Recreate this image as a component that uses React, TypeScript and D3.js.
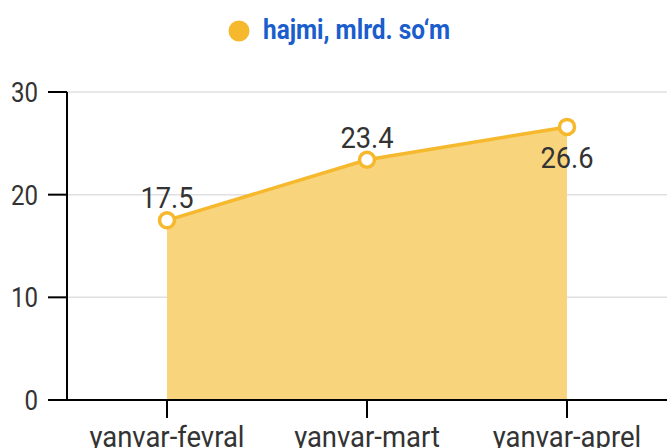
import React from "react";
import * as d3 from "d3";

const categories = ["yanvar-fevral", "yanvar-mart", "yanvar-aprel"];
const values = [17.5, 23.4, 26.6];
const yTicks = [0, 10, 20, 30];
const seriesName = "hajmi, mlrd. so\u2018m";

const W = 667, H = 448;
const M = { left: 67, right: 667, top: 92, bottom: 400 };
const FONT = "Roboto, 'Noto Sans', sans-serif";
const LINE = "#f6b82c";
const AREA = "#f8d47d";

function CText({ x, y, anchor = "middle", size, weight = 400, fill = "#333", sx = 0.86, children }: any) {
  return (
    <g transform={`translate(${x},${y}) scale(${sx},1)`}>
      <text textAnchor={anchor} fontSize={size} fontWeight={weight} fill={fill} fontFamily={FONT}>
        {children}
      </text>
    </g>
  );
}

export default function App() {
  const x = d3.scalePoint<string>().domain(categories).range([M.left, M.right]).padding(0.5);
  const y = d3.scaleLinear().domain([0, 30]).range([M.bottom, M.top]);
  const data = categories.map((c, i) => ({ c, v: values[i] }));
  const line = d3.line<any>().x((d) => x(d.c)!).y((d) => y(d.v));
  const area = d3.area<any>().x((d) => x(d.c)!).y0(y(0)).y1((d) => y(d.v));

  return (
    <svg width={W} height={H} style={{ position: "absolute", left: 0, top: 0 }}>
      {/* legend */}
      <circle cx={239} cy={31} r={10.5} fill={LINE} />
      <CText x={263} y={39} anchor="start" size={28} weight={700} fill="#1a5dcc" sx={0.87}>{seriesName}</CText>
      {/* grid */}
      {yTicks.filter((t) => t > 0).map((t) => (
        <line key={t} x1={M.left} x2={W} y1={y(t)} y2={y(t)} stroke="#e0e0e0" strokeWidth={1.5} />
      ))}
      {/* area */}
      <path d={area(data)!} fill={AREA} />
      {/* axes */}
      <line x1={M.left} x2={M.left} y1={M.top} y2={M.bottom} stroke="#000" strokeWidth={2} />
      <line x1={48} x2={W} y1={M.bottom} y2={M.bottom} stroke="#000" strokeWidth={2} />
      {yTicks.map((t) => (
        <g key={t}>
          <line x1={48} x2={M.left} y1={y(t)} y2={y(t)} stroke="#000" strokeWidth={2} />
          <CText x={38} y={y(t) + 10} anchor="end" size={28} fill="#333">{String(t)}</CText>
        </g>
      ))}
      {categories.map((c) => (
        <g key={c}>
          <line x1={x(c)!} x2={x(c)!} y1={M.bottom} y2={M.bottom + 18} stroke="#000" strokeWidth={2} />
          <CText x={x(c)!} y={447} size={30} fill="#333" sx={0.915}>{c}</CText>
        </g>
      ))}
      {/* line */}
      <path d={line(data)!} fill="none" stroke={LINE} strokeWidth={3.5} />
      {data.map((d, i) => (
        <circle key={i} cx={x(d.c)!} cy={y(d.v)} r={7.5} fill="#fff" stroke={LINE} strokeWidth={3.5} />
      ))}
      {data.map((d, i) => {
        const below = i === data.length - 1;
        return (
          <CText key={"l" + i} x={x(d.c)!} y={below ? y(d.v) + 41 : y(d.v) - 12} size={30} fill="#333" sx={0.91}>
            {String(d.v)}
          </CText>
        );
      })}
    </svg>
  );
}
